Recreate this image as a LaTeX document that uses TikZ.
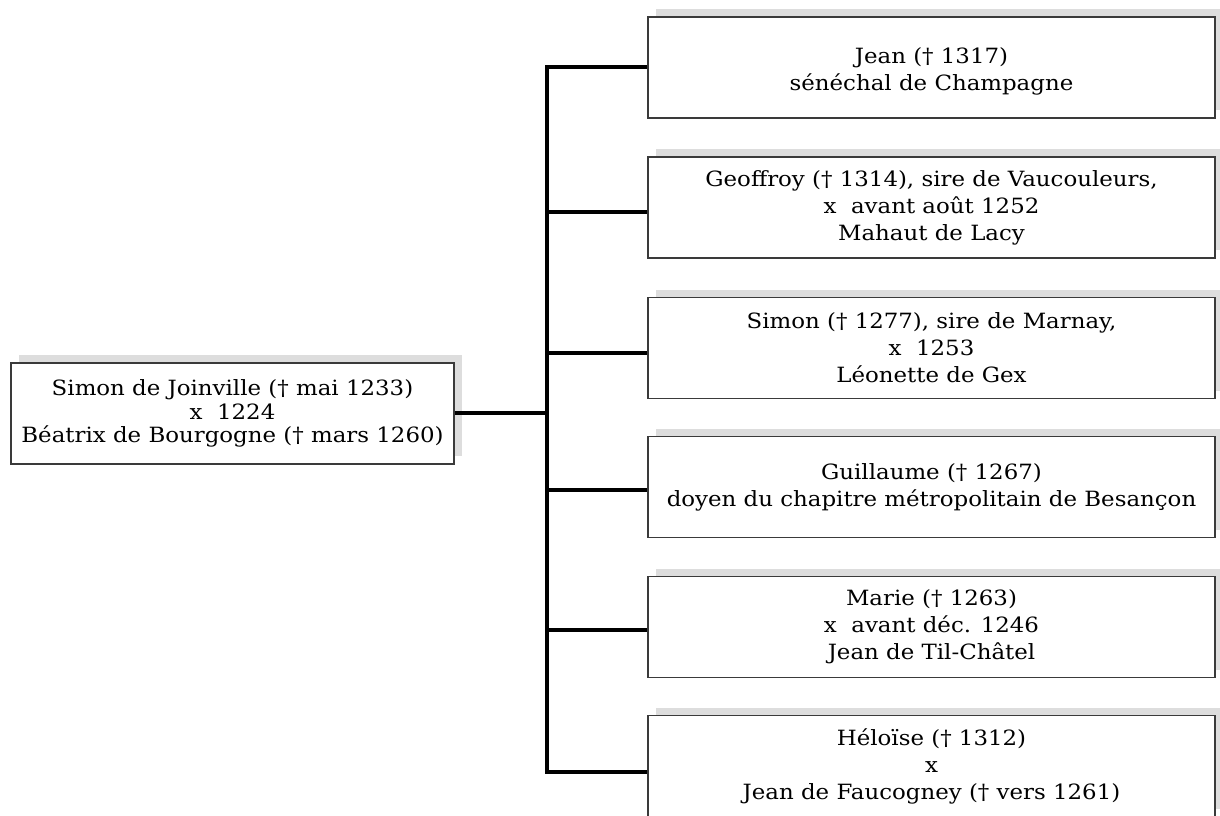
\documentclass[tikz,border=0pt]{standalone}
\usepackage{fontspec}
\setmainfont{DejaVu Serif}[FakeStretch=1.09]
\usetikzlibrary{shadows}
\definecolor{shadowgray}{HTML}{DDDDDD}
\definecolor{boxline}{HTML}{3A3A3A}
\tikzset{
  person/.style={draw=boxline, line width=1.5pt, fill=white, align=center,
    font=\fontsize{21}{27}\selectfont, inner sep=0pt,
    drop shadow={shadow xshift=8pt, shadow yshift=8pt, fill=shadowgray, opacity=1}},
  child/.style={person, minimum width=567pt, minimum height=101pt},
  link/.style={line width=3.2pt, black}
}
\begin{document}
\begin{tikzpicture}[x=1pt,y=-1pt]
\useasboundingbox (0,0) rectangle (1220,815);
\node[person, minimum width=443pt, minimum height=101pt, font=\fontsize{21}{23.5}\selectfont] (p) at (232.5,413.5)
  {Simon de Joinville († mai 1233)\\x\ \ 1224\\Béatrix de Bourgogne († mars 1260)};
\node[child] (c1) at (931.5,67.5) {\rule{0pt}{24pt}Jean († 1317)\\sénéchal de Champagne};
\node[child] (c2) at (931.5,207.5) {Geoffroy († 1314), sire de Vaucouleurs,\\x\ \ avant août 1252\\Mahaut de Lacy};
\node[child] (c3) at (931.5,348) {Simon († 1277), sire de Marnay,\\x\ \ 1253\\Léonette de Gex};
\node[child] (c4) at (931.5,487) {Guillaume († 1267)\\doyen du chapitre métropolitain de Besançon};
\node[child] (c5) at (931.5,627) {Marie († 1263)\\x\ \ avant déc. 1246\\Jean de Til-Châtel};
\node[child] (c6) at (931.5,766) {Héloïse († 1312)\\x\\Jean de Faucogney († vers 1261)};
\coordinate (top) at (547,67);
\coordinate (bot) at (547,772);
\coordinate (mid) at (547,413);
\draw[link] (p.east |- mid) -- (mid);
\draw[link, line cap=rect] (top) -- (bot);
\draw[link] (top) -- (c1.west |- top);
\draw[link] (547,212) -- (c2.west |- 0,212);
\draw[link] (547,353) -- (c3.west |- 0,353);
\draw[link] (547,490) -- (c4.west |- 0,490);
\draw[link] (547,630) -- (c5.west |- 0,630);
\draw[link] (bot) -- (c6.west |- bot);
\end{tikzpicture}
\end{document}
